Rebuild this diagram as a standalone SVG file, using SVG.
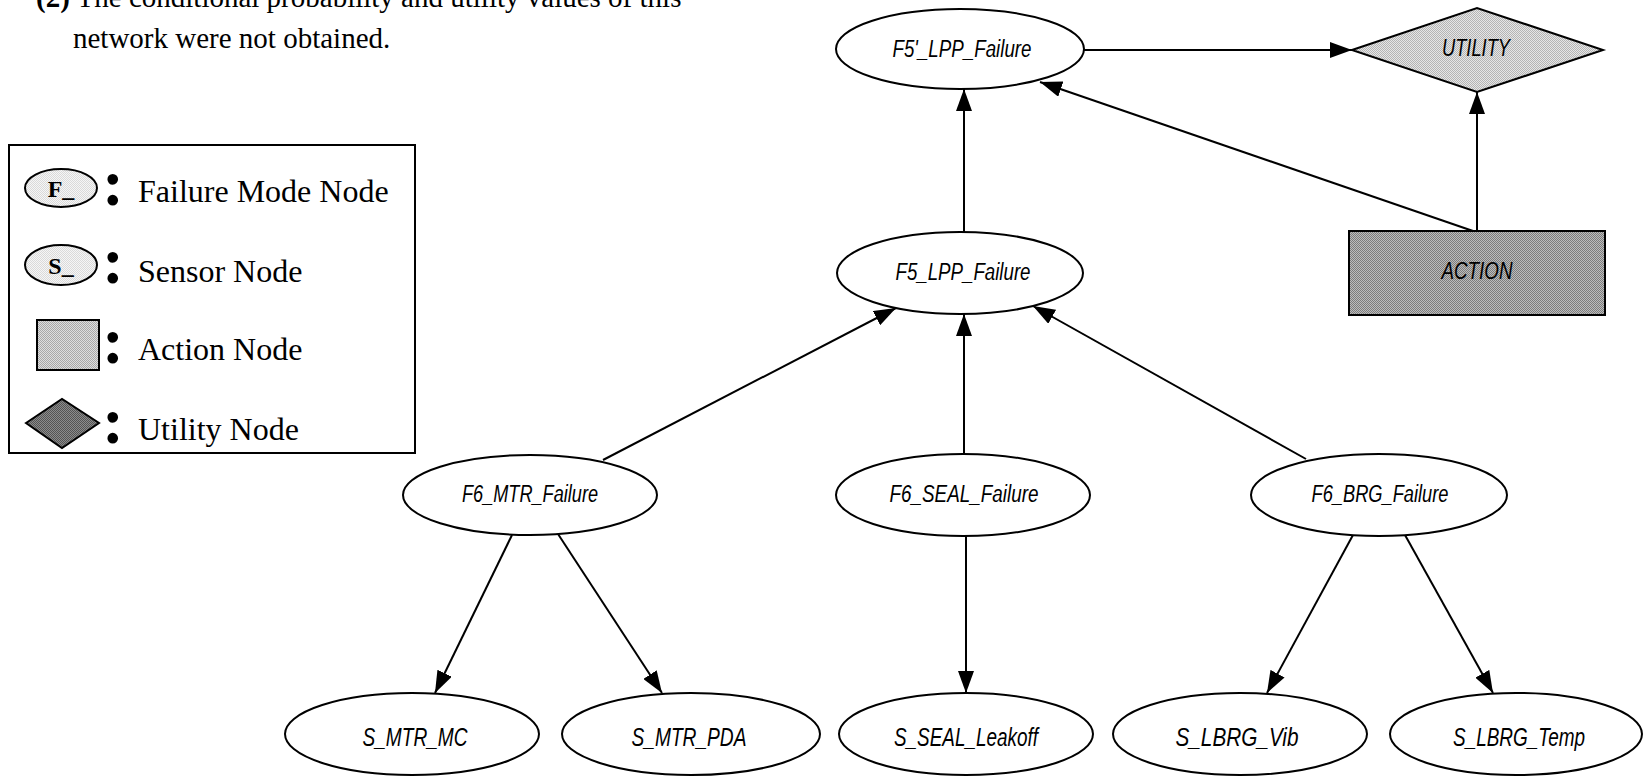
<svg xmlns="http://www.w3.org/2000/svg" width="1644" height="777" viewBox="0 0 1644 777">
  <style>
    .para { font-family: "Liberation Serif", "Times New Roman", serif; font-size: 29px; fill: #000; }
    .leg { font-family: "Liberation Serif", "Times New Roman", serif; font-size: 32px; fill: #000; }
    .legsym { font-family: "Liberation Serif", "Times New Roman", serif; font-size: 24px; font-weight: bold; fill: #000; text-anchor: middle; }
    .colon { font-family: "Liberation Serif", "Times New Roman", serif; font-size: 66px; font-weight: bold; fill: #000; text-anchor: middle; }
    .node { fill: #fff; stroke: #000; stroke-width: 2; }
    .lbl { font-family: "Liberation Sans", Arial, sans-serif; font-style: italic; font-size: 23px; fill: #000; text-anchor: middle; }
    .lbl-s { font-family: "Liberation Sans", Arial, sans-serif; font-style: italic; font-size: 25px; fill: #000; text-anchor: middle; }
    .edge { stroke: #000; stroke-width: 2; fill: none; marker-end: url(#arrow); }
  </style>
  <defs>
    <marker id="arrow" markerUnits="userSpaceOnUse" markerWidth="22" markerHeight="16" refX="22" refY="8" orient="auto">
      <path d="M0,0 L22,8 L0,16 Z" fill="#000"/>
    </marker>
    <!-- dithered grey fills -->
    <pattern id="ditherLight" width="2" height="2" patternUnits="userSpaceOnUse">
      <rect width="2" height="2" fill="#e6e6e6"/>
      <rect width="1" height="1" fill="#b4b4b4"/>
      <rect x="1" y="1" width="1" height="1" fill="#b4b4b4"/>
    </pattern>
    <pattern id="ditherMid" width="2" height="2" patternUnits="userSpaceOnUse">
      <rect width="2" height="2" fill="#bcbcbc"/>
      <rect width="1" height="1" fill="#7c7c7c"/>
      <rect x="1" y="1" width="1" height="1" fill="#7c7c7c"/>
    </pattern>
    <pattern id="ditherLegSq" width="2" height="2" patternUnits="userSpaceOnUse">
      <rect width="2" height="2" fill="#dedede"/>
      <rect width="1" height="1" fill="#a8a8a8"/>
      <rect x="1" y="1" width="1" height="1" fill="#a8a8a8"/>
    </pattern>
    <pattern id="ditherDark" width="2" height="2" patternUnits="userSpaceOnUse">
      <rect width="2" height="2" fill="#8c8c8c"/>
      <rect width="1" height="1" fill="#545454"/>
      <rect x="1" y="1" width="1" height="1" fill="#545454"/>
    </pattern>
    <pattern id="ditherPale" width="2" height="2" patternUnits="userSpaceOnUse">
      <rect width="2" height="2" fill="#f6f6f6"/>
      <rect width="1" height="1" fill="#dadada"/>
      <rect x="1" y="1" width="1" height="1" fill="#dadada"/>
    </pattern>
  </defs>

  <rect width="1644" height="777" fill="#fff"/>

  <!-- note above the legend (first line runs off the top edge) -->
  <g id="note">
    <text class="para" x="36" y="7"><tspan font-weight="bold">(2)</tspan> The conditional probability and utility values of this</text>
    <text class="para" x="73" y="48">network were not obtained.</text>
  </g>

  <!-- legend -->
  <g id="legend">
    <rect x="9" y="145" width="406" height="308" fill="#fff" stroke="#000" stroke-width="2"/>
    <ellipse cx="61" cy="188" rx="36" ry="19" fill="url(#ditherPale)" stroke="#000" stroke-width="2"/>
    <text class="legsym" x="61" y="197">F_</text>
    <text class="colon" x="113" y="205">:</text>
    <text class="leg" x="138" y="202">Failure Mode Node</text>

    <ellipse cx="61" cy="265" rx="36" ry="20" fill="url(#ditherPale)" stroke="#000" stroke-width="2"/>
    <text class="legsym" x="61" y="274">S_</text>
    <text class="colon" x="113" y="283">:</text>
    <text class="leg" x="138" y="282">Sensor Node</text>

    <rect x="37" y="320" width="62" height="50" fill="url(#ditherLegSq)" stroke="#000" stroke-width="2"/>
    <text class="colon" x="113" y="363">:</text>
    <text class="leg" x="138" y="360">Action Node</text>

    <polygon points="26,423 62,399 99,423 62,448" fill="url(#ditherDark)" stroke="#000" stroke-width="2"/>
    <text class="colon" x="113" y="443">:</text>
    <text class="leg" x="138" y="440">Utility Node</text>
  </g>

  <!-- connectors -->
  <g id="connectors">
    <line class="edge" x1="1084" y1="50" x2="1352" y2="50"/>
    <line class="edge" x1="964" y1="232" x2="964" y2="89"/>
    <line class="edge" x1="1473" y1="231" x2="1040" y2="82"/>
    <line class="edge" x1="1477" y1="231" x2="1477" y2="92"/>
    <line class="edge" x1="603" y1="460" x2="896" y2="308"/>
    <line class="edge" x1="964" y1="454" x2="964" y2="314"/>
    <line class="edge" x1="1306" y1="459" x2="1033" y2="306"/>
    <line class="edge" x1="512" y1="535" x2="435" y2="693"/>
    <line class="edge" x1="558" y1="534" x2="662" y2="693"/>
    <line class="edge" x1="966" y1="536" x2="966" y2="693"/>
    <line class="edge" x1="1353" y1="535" x2="1267" y2="693"/>
    <line class="edge" x1="1405" y1="535" x2="1493" y2="693"/>
  </g>

  <!-- nodes -->
  <g id="F5p_LPP_Failure">
    <ellipse class="node" cx="960" cy="49" rx="124" ry="40"/>
    <text class="lbl" x="962" y="57" textLength="139" lengthAdjust="spacingAndGlyphs">F5'_LPP_Failure</text>
  </g>
  <g id="UTILITY">
    <polygon points="1352,50 1477,8 1603,50 1477,92" fill="url(#ditherLight)" stroke="#000" stroke-width="2"/>
    <text class="lbl" x="1476" y="56" textLength="68" lengthAdjust="spacingAndGlyphs">UTILITY</text>
  </g>
  <g id="ACTION">
    <rect x="1349" y="231" width="256" height="84" fill="url(#ditherMid)" stroke="#000" stroke-width="2"/>
    <text class="lbl" x="1477" y="279" textLength="71" lengthAdjust="spacingAndGlyphs">ACTION</text>
  </g>
  <g id="F5_LPP_Failure">
    <ellipse class="node" cx="960" cy="273" rx="123" ry="41"/>
    <text class="lbl" x="963" y="280" textLength="135" lengthAdjust="spacingAndGlyphs">F5_LPP_Failure</text>
  </g>
  <g id="F6_MTR_Failure">
    <ellipse class="node" cx="530" cy="495" rx="127" ry="40"/>
    <text class="lbl" x="530" y="502" textLength="136" lengthAdjust="spacingAndGlyphs">F6_MTR_Failure</text>
  </g>
  <g id="F6_SEAL_Failure">
    <ellipse class="node" cx="963" cy="495" rx="127" ry="41"/>
    <text class="lbl" x="964" y="502" textLength="149" lengthAdjust="spacingAndGlyphs">F6_SEAL_Failure</text>
  </g>
  <g id="F6_BRG_Failure">
    <ellipse class="node" cx="1379" cy="495" rx="128" ry="41"/>
    <text class="lbl" x="1380" y="502" textLength="137" lengthAdjust="spacingAndGlyphs">F6_BRG_Failure</text>
  </g>
  <g id="S_MTR_MC">
    <ellipse class="node" cx="412" cy="734" rx="127" ry="41"/>
    <text class="lbl-s" x="415" y="746" textLength="105" lengthAdjust="spacingAndGlyphs">S_MTR_MC</text>
  </g>
  <g id="S_MTR_PDA">
    <ellipse class="node" cx="691" cy="734" rx="129" ry="41"/>
    <text class="lbl-s" x="689" y="746" textLength="115" lengthAdjust="spacingAndGlyphs">S_MTR_PDA</text>
  </g>
  <g id="S_SEAL_Leakoff">
    <ellipse class="node" cx="966" cy="734" rx="127" ry="41"/>
    <text class="lbl-s" x="966" y="746" textLength="144" lengthAdjust="spacingAndGlyphs">S_SEAL_Leakoff</text>
  </g>
  <g id="S_LBRG_Vib">
    <ellipse class="node" cx="1240" cy="734" rx="127" ry="41"/>
    <text class="lbl-s" x="1237" y="746" textLength="123" lengthAdjust="spacingAndGlyphs">S_LBRG_Vib</text>
  </g>
  <g id="S_LBRG_Temp">
    <ellipse class="node" cx="1516" cy="734" rx="126" ry="41"/>
    <text class="lbl-s" x="1519" y="746" textLength="132" lengthAdjust="spacingAndGlyphs">S_LBRG_Temp</text>
  </g>
</svg>
